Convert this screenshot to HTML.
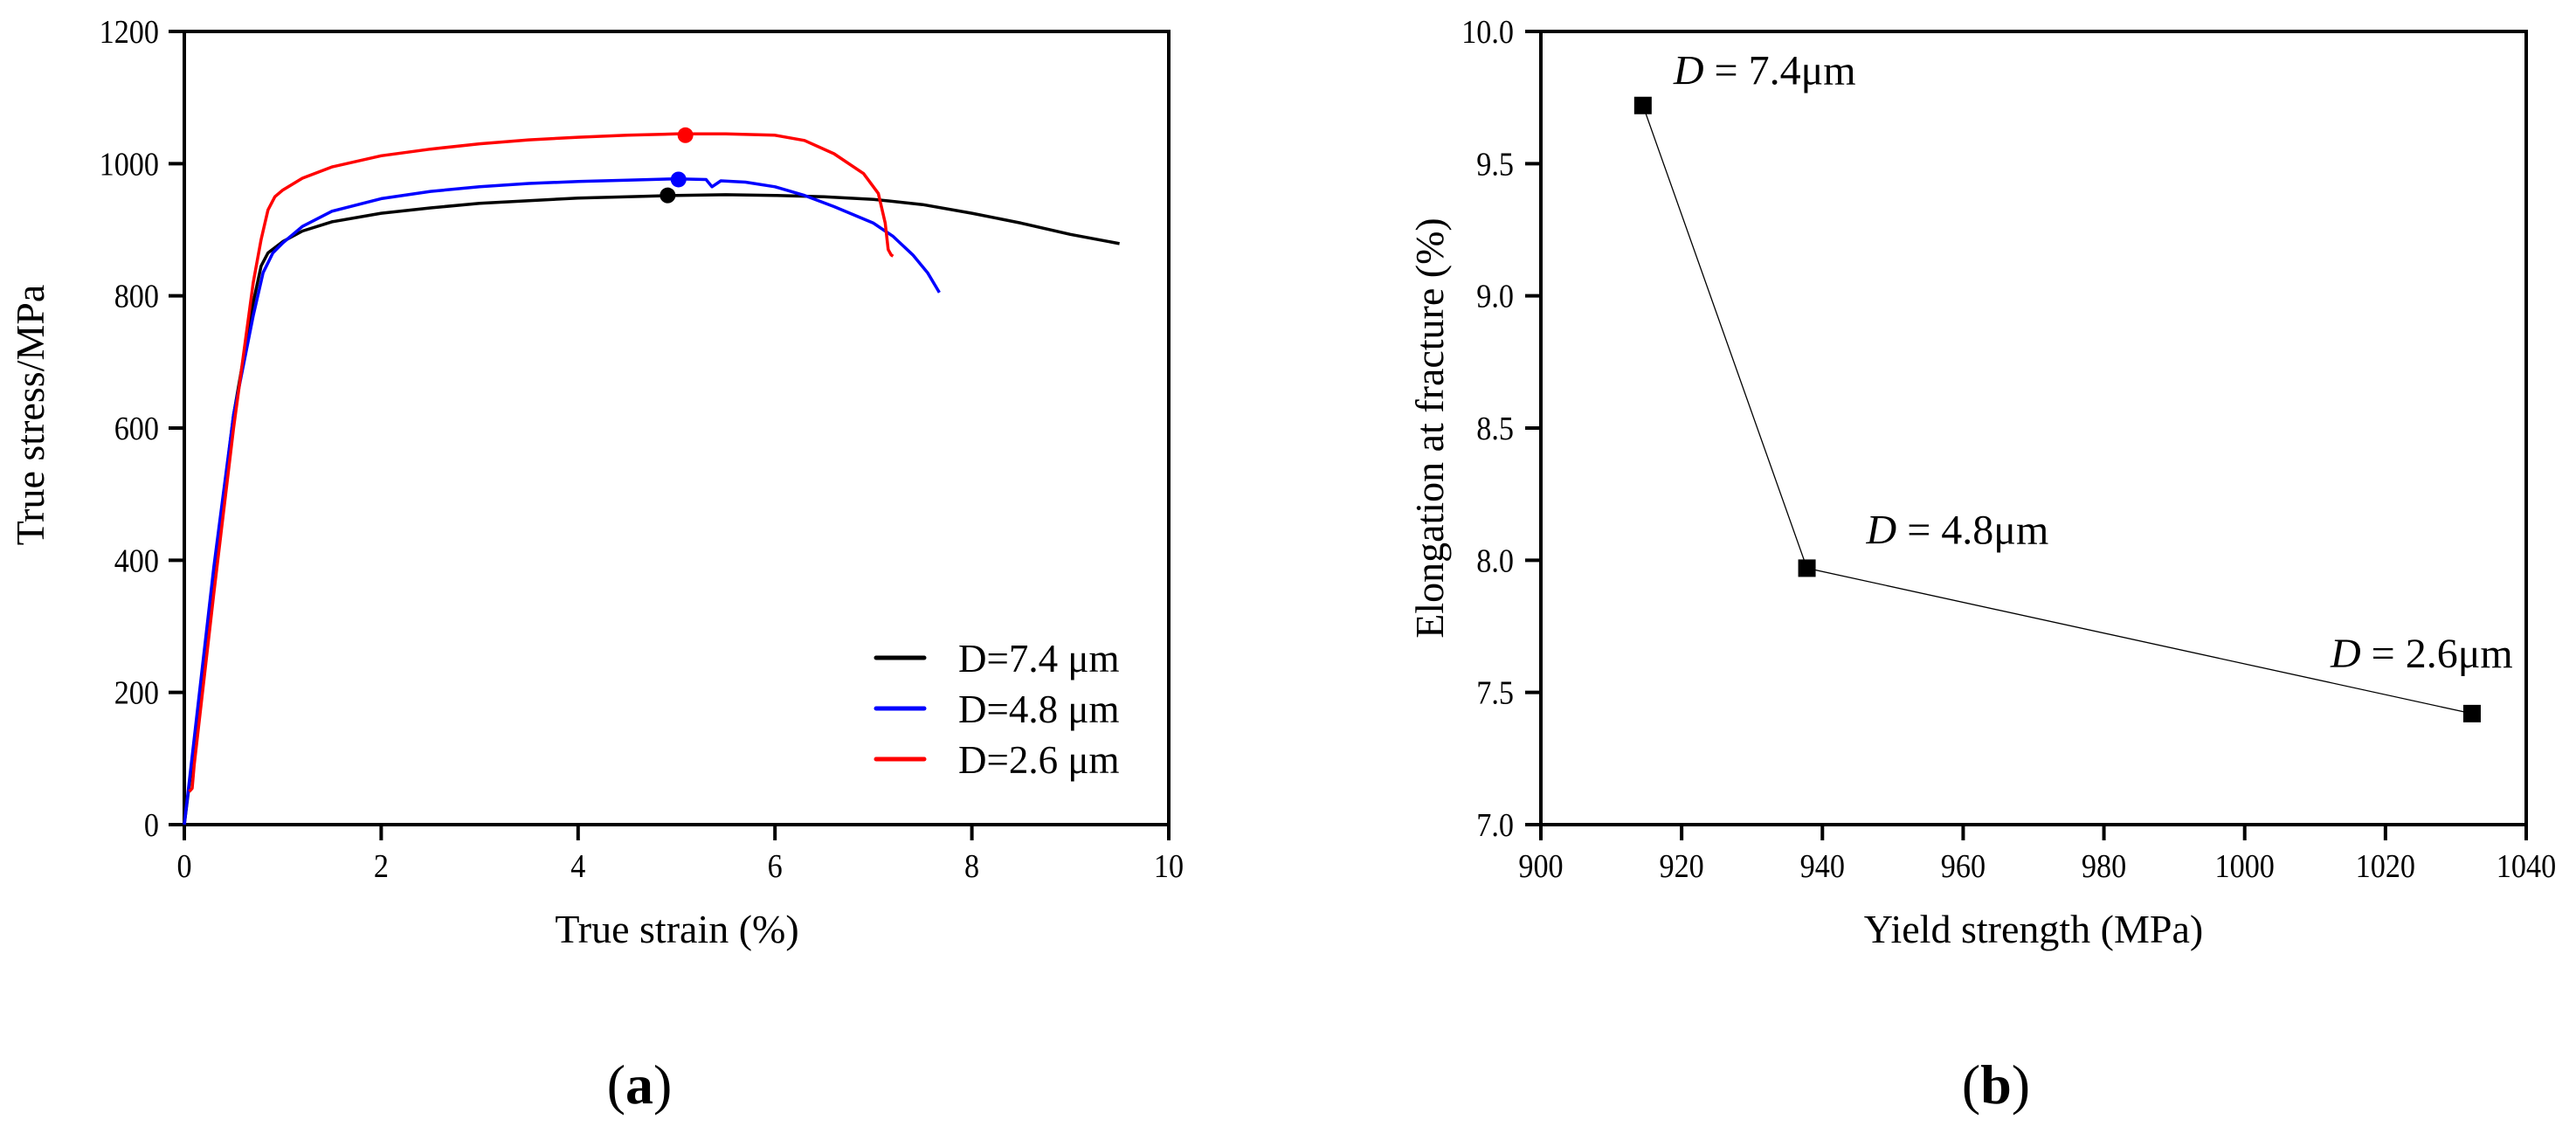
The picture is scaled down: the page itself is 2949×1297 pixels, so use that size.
<!DOCTYPE html>
<html><head><meta charset="utf-8"><style>
html,body{margin:0;padding:0;background:#fff;}
svg{display:block;font-family:"Liberation Serif",serif;}
</style></head><body>
<svg id="fig" width="2949" height="1297" viewBox="0 0 2949 1297" xmlns="http://www.w3.org/2000/svg">
<g id="pa"></g>
<g id="pb"></g>
<text x="732" y="1263" font-size="64" text-anchor="middle">(<tspan font-weight="bold">a</tspan>)</text>
<text x="2285" y="1263" font-size="64" text-anchor="middle">(<tspan font-weight="bold">b</tspan>)</text>
</svg>
<script>
// ---- Chart (a) data ----
const aXTicks = [0,2,4,6,8,10];
const aYTicks = [0,200,400,600,800,1000,1200];
const blackX = [0,0.1,0.3,0.5,0.7,0.78,0.85,1.0,1.2,1.5,2,2.5,3,3.5,4,4.5,5,5.5,6,6.5,7,7.5,8,8.5,9,9.5];
const blackY = [0,120,380,620,790,845,865,882,898,912,925,933,940,944,948,950,952,953,952,950,946,938,925,910,893,879];
const blueX = [0,0.1,0.3,0.5,0.7,0.8,0.9,1.0,1.2,1.5,2,2.5,3,3.5,4,4.5,5,5.3,5.36,5.45,5.7,6,6.3,6.6,7,7.2,7.4,7.55,7.67];
const blueY = [0,130,390,620,770,835,865,880,905,928,947,958,965,970,973,975,977,976,965,974,972,965,952,935,910,890,862,835,805];
const redX = [0.05,0.08,0.1,0.3,0.5,0.7,0.78,0.85,0.92,1.0,1.2,1.5,2,2.5,3,3.5,4,4.5,5,5.5,6,6.3,6.6,6.9,7.05,7.12,7.15,7.18,7.2];
const redY = [50,55,90,350,600,820,885,930,950,960,978,995,1012,1022,1030,1036,1040,1043,1045,1045,1043,1035,1015,985,955,910,870,862,860];
const peakX = [4.91,5.02,5.09];
const peakY = [952,976,1043];
const seriesNames = ["D=7.4 μm","D=4.8 μm","D=2.6 μm"];
const seriesColors = ["#000000","#0000ff","#ff0000"];
// ---- Chart (b) data ----
const bXTicks = [900,920,940,960,980,1000,1020,1040];
const bYTicks = [7.0,7.5,8.0,8.5,9.0,9.5,10.0];
const yieldVals = [914.5,937.8,1032.3];
const elongVals = [9.72,7.97,7.42];
const pointLabels = ["7.4μm","4.8μm","2.6μm"];

const NS="http://www.w3.org/2000/svg";
function mk(parent,tag,attrs,txt){const e=document.createElementNS(NS,tag);for(const k in attrs)e.setAttribute(k,attrs[k]);if(txt!==undefined)e.textContent=txt;parent.appendChild(e);return e;}

// Chart A
const A={x0:211,x1:1338,y0:944,y1:36};
const ax=v=>A.x0+(v-0)/10*(A.x1-A.x0);
const ay=v=>A.y0-(v-0)/1200*(A.y0-A.y1);
const ga=document.getElementById('pa');
let fr=mk(ga,'rect',{x:A.x0,y:A.y1,width:A.x1-A.x0,height:A.y0-A.y1,fill:'none',stroke:'#000','stroke-width':4});


aXTicks.forEach(t=>{
  let l=mk(ga,'line',{x1:ax(t),x2:ax(t),y1:A.y0,y2:A.y0+18,stroke:'#000','stroke-width':4});
  
  
  let tx=mk(ga,'text',{x:ax(t),y:1004,'font-size':38,'text-anchor':'middle',transform:`translate(${ax(t)},0) scale(0.9,1) translate(${-ax(t)},0)`},String(t));
  
  
});
aYTicks.forEach(t=>{
  let l=mk(ga,'line',{x1:A.x0-18,x2:A.x0,y1:ay(t),y2:ay(t),stroke:'#000','stroke-width':4});
  
  
  let tx=mk(ga,'text',{x:182,y:ay(t)+13,'font-size':38,'text-anchor':'end',transform:'translate(182,0) scale(0.9,1) translate(-182,0)'},String(t));
  
  
});
let xt=mk(ga,'text',{x:775,y:1079,'font-size':46,'text-anchor':'middle'},'True strain (%)');


let yt=mk(ga,'text',{x:0,y:0,'font-size':46,'text-anchor':'middle',transform:'translate(50,475) rotate(-90)'},'True stress/MPa');


[[blackX,blackY],[blueX,blueY],[redX,redY]].forEach((s,i)=>{
  const d=s[0].map((v,j)=>(j?'L':'M')+ax(v).toFixed(1)+' '+ay(s[1][j]).toFixed(1)).join(' ');
  let p=mk(ga,'path',{d:d,fill:'none',stroke:seriesColors[i],'stroke-width':3.5,'stroke-linejoin':'round'});
  
  
});
peakX.forEach((v,i)=>{
  let c=mk(ga,'circle',{cx:ax(v),cy:ay(peakY[i]),r:9,fill:seriesColors[i]});
  
  
});
seriesNames.forEach((n,i)=>{
  const y=753+i*58;
  let l=mk(ga,'line',{x1:1003,x2:1058,y1:y,y2:y,stroke:seriesColors[i],'stroke-width':5,'stroke-linecap':'round'});
  
  
  let t=mk(ga,'text',{x:1097,y:y+16,'font-size':45},n);
  
  
});

// Chart B
const B={x0:1764,x1:2892,y0:944,y1:36};
const bx=v=>B.x0+(v-900)/140*(B.x1-B.x0);
const by=v=>B.y0-(v-7)/3*(B.y0-B.y1);
const gb=document.getElementById('pb');
let fb=mk(gb,'rect',{x:B.x0,y:B.y1,width:B.x1-B.x0,height:B.y0-B.y1,fill:'none',stroke:'#000','stroke-width':4});


bXTicks.forEach(t=>{
  let l=mk(gb,'line',{x1:bx(t),x2:bx(t),y1:B.y0,y2:B.y0+18,stroke:'#000','stroke-width':4});
  
  
  let tx=mk(gb,'text',{x:bx(t),y:1004,'font-size':38,'text-anchor':'middle',transform:`translate(${bx(t)},0) scale(0.9,1) translate(${-bx(t)},0)`},String(t));
  
  
});
bYTicks.forEach(t=>{
  let l=mk(gb,'line',{x1:B.x0-18,x2:B.x0,y1:by(t),y2:by(t),stroke:'#000','stroke-width':4});
  
  
  let tx=mk(gb,'text',{x:1733,y:by(t)+13,'font-size':38,'text-anchor':'end',transform:'translate(1733,0) scale(0.9,1) translate(-1733,0)'},t.toFixed(1));
  
  
});
let xtb=mk(gb,'text',{x:2328,y:1079,'font-size':46,'text-anchor':'middle'},'Yield strength (MPa)');


let ytb=mk(gb,'text',{x:0,y:0,'font-size':46,'text-anchor':'middle',transform:'translate(1652,490) rotate(-90)'},'Elongation at fracture (%)');


let ln=mk(gb,'path',{d:yieldVals.map((v,j)=>(j?'L':'M')+bx(v).toFixed(1)+' '+by(elongVals[j]).toFixed(1)).join(' '),fill:'none',stroke:'#000','stroke-width':1.3});


const lblOff=[[35,-24],[68,-28],[-162,-53]];
yieldVals.forEach((v,i)=>{
  let r=mk(gb,'rect',{x:bx(v)-10,y:by(elongVals[i])-10,width:20,height:20,fill:'#000'});
  
  
  let t=mk(gb,'text',{x:bx(v)+lblOff[i][0],y:by(elongVals[i])+lblOff[i][1],'font-size':48});
  
  
  mk(t,'tspan',{'font-style':'italic'},'D');
  mk(t,'tspan',{},' = '+pointLabels[i]);
});
</script>
</body></html>
